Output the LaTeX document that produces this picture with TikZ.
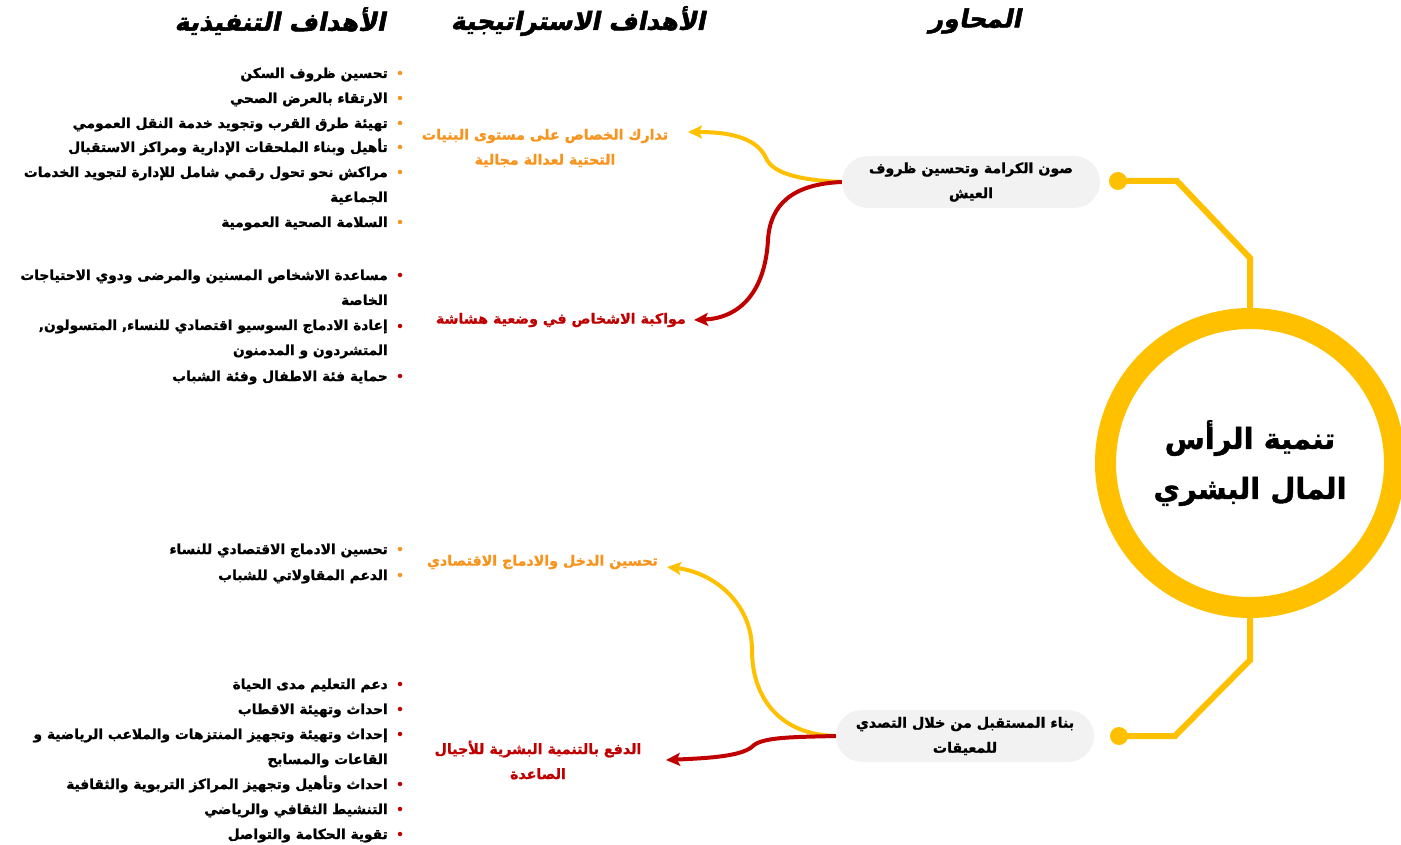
\documentclass[tikz,border=0pt]{standalone}
\usepackage{fontspec}
\usetikzlibrary{arrows.meta}
\TeXXeTstate=1
\newfontfamily\arabicfont[Script=Arabic,FakeBold=1.2]{DejaVu Sans}
\newfontfamily\arabichead[Script=Arabic,FakeSlant=0.2,FakeBold=2]{DejaVu Sans}
\newcommand{\ar}[1]{\beginR #1\endR}
\definecolor{gold}{HTML}{FFC000}
\definecolor{orangeT}{HTML}{F7941E}
\definecolor{redT}{HTML}{C00000}
\definecolor{pill}{HTML}{F2F2F2}
\begin{document}
\begin{tikzpicture}[x=1pt,y=-1pt,
  head/.style={font=\arabichead\bfseries\fontsize{25}{29}\selectfont, inner sep=0pt},
  item/.style={anchor=base east, align=right, inner sep=0pt, font=\arabicfont\bfseries\fontsize{13.8}{25}\selectfont},
  strat/.style={align=center, inner sep=0pt, font=\arabicfont\bfseries\fontsize{14.2}{25}\selectfont},
  axis/.style={fill=pill, rounded corners=26pt, minimum width=258pt, minimum height=52pt, align=center, inner sep=0pt, font=\arabicfont\bfseries\fontsize{14.2}{25}\selectfont},
  link/.style={line width=6pt, gold},
  arrowlink/.style={line width=4pt, -{Stealth[length=14pt,width=13pt,inset=3pt]}},
  bul/.style={circle, inner sep=0pt, minimum size=4.5pt}
]
\useasboundingbox (0,0) rectangle (1401,845);

% headers
\node[head] (h1) at (280,21) {\ar{الأهداف التنفيذية}};
\node[head] (h2) at (578,21) {\ar{الأهداف الاستراتيجية}};
\node[head] (h3) at (975,21) {\ar{المحاور}};

% central circle
\node[circle, draw=gold, line width=21pt, minimum size=289pt, align=center,
      font=\arabicfont\bfseries\fontsize{29}{50}\selectfont] (c) at (1250,463)
      {\ar{تنمية الرأس}\\\ar{المال البشري}};

% axes
\node[axis] (a1) at (971,182) {\ar{صون الكرامة وتحسين ظروف}\\\ar{العيش}};
\node[axis] (a2) at (965,736) {\ar{بناء المستقبل من خلال التصدي}\\\ar{للمعيقات}};

\coordinate (d1) at (1118,181);
\coordinate (d2) at (1119,736);
\draw[link] (c.north) -- ++(0,-50) -- (1177,181) -- (d1);
\draw[link] (c.south) -- ++(0,42) -- (1175,736) -- (d2);
\fill[gold] (d1) circle (9);
\fill[gold] (d2) circle (9);

% strategic goals
\node[strat, text=orangeT] (s1) at (545,148) {\ar{تدارك الخصاص على مستوى البنيات}\\\ar{التحتية لعدالة مجالية}};
\node[strat, text=redT, anchor=east] (s2) at (686,320) {\ar{مواكبة الاشخاص في وضعية هشاشة}};
\node[strat, text=orangeT, anchor=east] (s3) at (658,562) {\ar{تحسين الدخل والادماج الاقتصادي}};
\node[strat, text=redT] (s4) at (538,760) {\ar{الدفع بالتنمية البشرية للأجيال}\\\ar{الصاعدة}};

\coordinate (t1) at (688,132);
\coordinate (t2) at (694,320);
\coordinate (t3) at (667,567);
\coordinate (t4) at (666,760);
\draw[arrowlink, gold] (a1.west) .. controls (795,180) and (772,172) .. (766,158) .. controls (756,136) and (725,132) .. (t1);
\draw[arrowlink, redT] (a1.west) .. controls (792,184) and (770,205) .. (768,240) .. controls (765,292) and (740,318) .. (t2);
\draw[arrowlink, gold] (a2.west) .. controls (782,735) and (752,700) .. (752,650) .. controls (752,602) and (712,572) .. (t3);
\draw[arrowlink, redT] (a2.west) .. controls (795,737) and (765,737) .. (754,745) .. controls (744,756) and (712,758) .. (t4);

% list 1
\node[item] (i11) at (388,78) {\ar{تحسين ظروف السكن}};
\node[item] (i12) at (388,103) {\ar{الارتقاء بالعرض الصحي}};
\node[item] (i13) at (388,128) {\ar{تهيئة طرق القرب وتجويد خدمة النقل العمومي}};
\node[item] (i14) at (388,152) {\ar{تأهيل وبناء الملحقات الإدارية ومراكز الاستقبال}};
\node[item] (i15) at (388,202) {\ar{مراكش نحو تحول رقمي شامل للإدارة لتجويد الخدمات}\\\ar{الجماعية}};
\node[item] (i16) at (388,227) {\ar{السلامة الصحية العمومية}};
\foreach \y in {73,98,123,147,172,222} \node[bul, fill=orangeT] at (400,\y) {};

% list 2
\node[item] (i21) at (388,305) {\ar{مساعدة الاشخاص المسنين والمرضى ودوي الاحتياجات}\\\ar{الخاصة}};
\node[item] (i22) at (388,355) {\ar{إعادة الادماج السوسيو اقتصادي للنساء, المتسولون,}\\\ar{المتشردون و المدمنون}};
\node[item] (i23) at (388,381) {\ar{حماية فئة الاطفال وفئة الشباب}};
\foreach \y in {275,326,376} \node[bul, fill=redT] at (400,\y) {};

% list 3
\node[item] (i31) at (388,554) {\ar{تحسين الادماج الاقتصادي للنساء}};
\node[item] (i32) at (388,580) {\ar{الدعم المقاولاتي للشباب}};
\foreach \y in {549,575} \node[bul, fill=orangeT] at (400,\y) {};

% list 4
\node[item] (i41) at (388,689) {\ar{دعم التعليم مدى الحياة}};
\node[item] (i42) at (388,714) {\ar{احداث وتهيئة الاقطاب}};
\node[item] (i43) at (388,764) {\ar{إحداث وتهيئة وتجهيز المنتزهات والملاعب الرياضية و}\\\ar{القاعات والمسابح}};
\node[item] (i44) at (388,789) {\ar{احداث وتأهيل وتجهيز المراكز التربوية والثقافية}};
\node[item] (i45) at (388,814) {\ar{التنشيط الثقافي والرياضي}};
\node[item] (i46) at (388,839) {\ar{تقوية الحكامة والتواصل}};
\foreach \y in {684,709,734,784,809,834} \node[bul, fill=redT] at (400,\y) {};
\end{tikzpicture}
\end{document}
